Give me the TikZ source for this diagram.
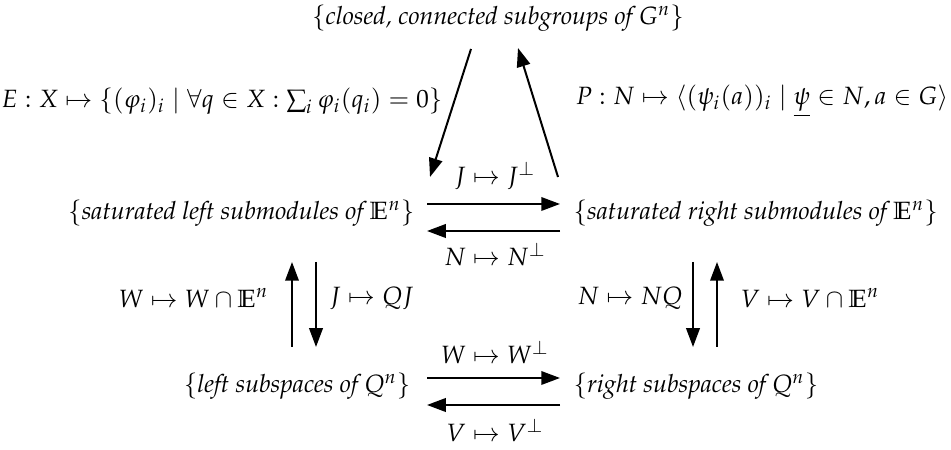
\documentclass[tikz,border=0pt]{standalone}
\usepackage[T1]{fontenc}
\usepackage{amsmath}
\usepackage{mathpazo}
\usetikzlibrary{arrows.meta}
\begin{document}
\begin{tikzpicture}[x=0.4pt,y=-0.4pt,
  arr/.style={line width=0.8pt,-{Triangle[length=7.5pt,width=5.4pt]}},
  lbl/.style={inner sep=0pt},
  obj/.style={inner sep=0pt,font=\itshape}]
\useasboundingbox (0,0) rectangle (951,450);
% objects
\node[obj] (G) at (498,18) {$\{$closed, connected subgroups of $G^n\}$};
\node[obj,anchor=east] (SL) at (415,213) {$\{$saturated left submodules of $\mathbb{E}^n\}$};
\node[obj,anchor=west] (SR) at (573,213) {$\{$saturated right submodules of $\mathbb{E}^n\}$};
\node[obj,anchor=east] (QL) at (411,386) {$\{$left subspaces of $Q^n\}$};
\node[obj,anchor=west] (QR) at (573,386) {$\{$right subspaces of $Q^n\}$};
% labels
\node[lbl] (E) at (222,101) {$E : X \mapsto \{(\varphi_i)_i \mid \forall q \in X : \sum_i \varphi_i(q_i) = 0\}$};
\node[lbl] (P) at (762,101) {$P : N \mapsto \langle (\psi_i(a))_i \mid \underline{\psi} \in N, a \in G\rangle$};
\node[lbl] (JJ) at (495,176) {$J \mapsto J^\perp$};
\node[lbl] (NN) at (495,254) {$N \mapsto N^\perp$};
\node[lbl,anchor=east] (WWE) at (269,298) {$W \mapsto W \cap \mathbb{E}^n$};
\node[lbl,anchor=west] (JQJ) at (329,298) {$J \mapsto QJ$};
\node[lbl,anchor=east] (NNQ) at (683,298) {$N \mapsto NQ$};
\node[lbl,anchor=west] (VVE) at (740,298) {$V \mapsto V \cap \mathbb{E}^n$};
\node[lbl] (WW) at (495,352) {$W \mapsto W^\perp$};
\node[lbl] (VV) at (495,430) {$V \mapsto V^\perp$};
% connector end points
\coordinate (d1) at (471,49);  \coordinate (d2) at (430,177);
\coordinate (u1) at (558,177); \coordinate (u2) at (518,48);
\coordinate (m1) at (427,204); \coordinate (m2) at (560,204);
\coordinate (m3) at (560,231); \coordinate (m4) at (427,231);
\coordinate (b1) at (427,378); \coordinate (b2) at (560,378);
\coordinate (b3) at (560,405); \coordinate (b4) at (427,405);
\coordinate (l1) at (292,347); \coordinate (l2) at (292,262);
\coordinate (l3) at (316,262); \coordinate (l4) at (316,347);
\coordinate (r1) at (693,262); \coordinate (r2) at (693,347);
\coordinate (r3) at (717,347); \coordinate (r4) at (717,262);
% connectors
\draw[arr] (d1) -- (d2);
\draw[arr] (u1) -- (u2);
\draw[arr] (m1) -- (m2);
\draw[arr] (m3) -- (m4);
\draw[arr] (b1) -- (b2);
\draw[arr] (b3) -- (b4);
\draw[arr] (l1) -- (l2);
\draw[arr] (l3) -- (l4);
\draw[arr] (r1) -- (r2);
\draw[arr] (r3) -- (r4);
\end{tikzpicture}
\end{document}
